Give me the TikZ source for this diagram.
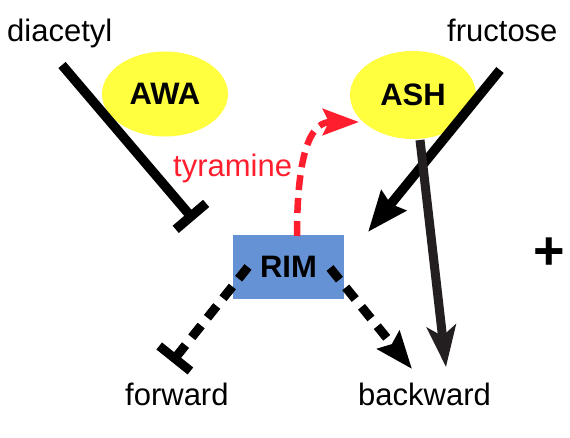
\documentclass[tikz,border=0pt]{standalone}
\usepackage{fontspec}
\setmainfont{Liberation Sans}
\usetikzlibrary{arrows.meta,shapes.geometric}
\definecolor{ellyellow}{RGB}{255,255,64}
\definecolor{rimblue}{RGB}{101,145,213}
\definecolor{tyrred}{RGB}{255,30,45}
\definecolor{darkline}{RGB}{35,31,32}
\begin{document}
\begin{tikzpicture}[x=1pt,y=-1pt,
  lbl/.style={inner sep=0pt, anchor=base west, font=\fontsize{31}{36}\selectfont},
  neuron/.style={ellipse, fill=ellyellow, inner sep=0pt, font=\fontsize{31}{36}\selectfont\bfseries},
  thick8/.style={line width=9.5pt},
  dash8/.style={line width=9pt, dash pattern=on 15pt off 10pt},
  bigarrow/.style={-{Stealth[length=40pt,width=31pt,inset=4pt]}},
  inhib/.style={-{Bar[width=40pt]}}
]
\useasboundingbox (0,0) rectangle (570,438);
\node[lbl] (diacetyl) at (7,42) {diacetyl};
\node[lbl] (fructose) at (447,42) {fructose};
\node[lbl] (forward) at (125,405) {forward};
\node[lbl] (backward) at (358,405) {backward};
\node[lbl, text=tyrred] (tyramine) at (173,177) {tyramine};
\node[font=\fontsize{54}{60}\selectfont\bfseries, inner sep=0pt] (plus) at (549.5,254) {+};
\node[neuron, minimum width=126pt, minimum height=85pt] (AWA) at (165,94) {AWA};
\node[neuron, minimum width=126pt, minimum height=88pt] (ASH) at (413,95) {ASH};
\node[fill=rimblue, minimum width=111pt, minimum height=64pt, inner sep=0pt, font=\fontsize{31}{36}\selectfont\bfseries] (RIM) at (288.5,267) {RIM};

\coordinate (dstart) at (62,65);
\coordinate (dend) at (194,220);
\coordinate (fstart) at (500,70);
\coordinate (fend) at (368,232);
\coordinate (astart) at (420,140);
\coordinate (aend) at (446,367);
\coordinate (rbstart) at (330,268);
\coordinate (rbend) at (412,369);
\coordinate (rfstart) at (248,267);
\coordinate (rfend) at (172,362);
\coordinate (tstart) at (297,236);
\coordinate (tend) at (359,122);

\draw[thick8, inhib] (dstart) -- (dend);
\draw[thick8, bigarrow] (fstart) -- (fend);
\draw[line width=9pt, darkline, -{Stealth[length=41pt,width=29pt,inset=10pt]}] (astart) -- (aend);
\draw[dash8, -{Stealth[length=37pt,width=28pt,inset=5pt]}] (rbstart) -- (rbend);
\draw[dash8, inhib] (rfstart) -- (rfend);
\draw[line width=6.5pt, tyrred, dash pattern=on 15pt off 8pt, -{Stealth[length=36pt,width=26pt,inset=6pt]}]
  (tstart) .. controls (297,140) and (315,122) .. (tend);
\end{tikzpicture}
\end{document}
